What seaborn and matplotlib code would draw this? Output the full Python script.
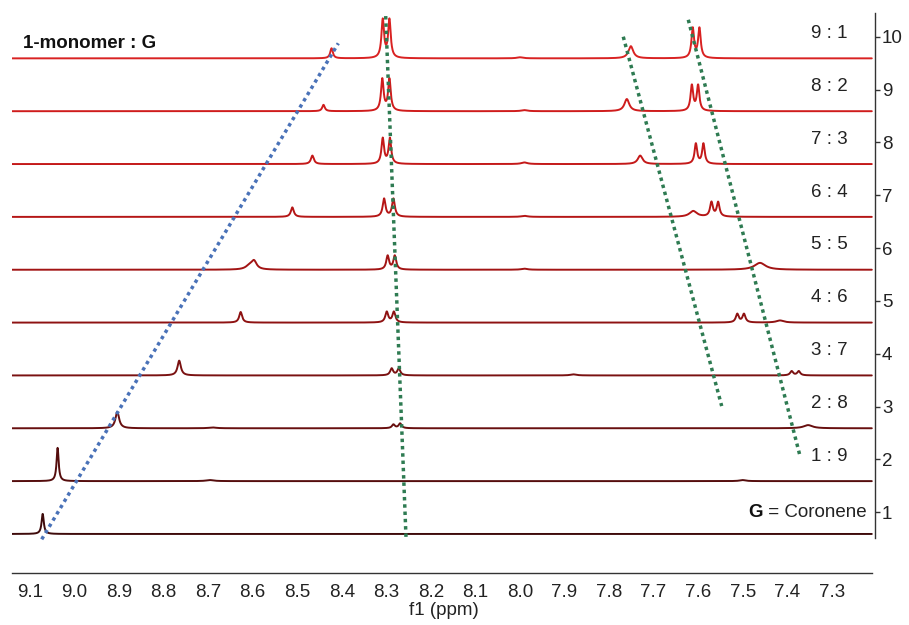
import numpy as np
import pandas as pd
import matplotlib
matplotlib.use("Agg")
import matplotlib.pyplot as plt
import seaborn as sns
from matplotlib.ticker import MultipleLocator

sns.set_style("white")
plt.rcParams["font.family"] = ["Liberation Sans", "DejaVu Sans"]

# ---------------- data ----------------
trace_names = ["S1", "S2", "S3", "S4", "S5", "S6", "S7", "S8", "S9", "S10"]
stack_levels = [1, 2, 3, 4, 5, 6, 7, 8, 9, 10]
ratio_labels = ["", "1 : 9", "2 : 8", "3 : 7", "4 : 6", "5 : 5",
                "6 : 4", "7 : 3", "8 : 2", "9 : 1"]
x_ticks = [9.1, 9.0, 8.9, 8.8, 8.7, 8.6, 8.5, 8.4, 8.3, 8.2, 8.1, 8.0,
           7.9, 7.8, 7.7, 7.6, 7.5, 7.4, 7.3]

# peaks: (shift / ppm, height, half width / ppm)
peaks_S1 = [(9.0715, 0.38, 0.003)]
peaks_S2 = [(9.038, 0.63, 0.0028), (8.696, 0.02, 0.01), (7.50, 0.02, 0.008)]
peaks_S3 = [(8.904, 0.31, 0.005), (8.284, 0.07, 0.004), (8.269, 0.09, 0.004),
            (8.69, 0.015, 0.01), (7.353, 0.06, 0.012)]
peaks_S4 = [(8.765, 0.28, 0.0045), (8.288, 0.13, 0.004), (8.272, 0.13, 0.004),
            (7.88, 0.02, 0.008), (7.390, 0.08, 0.004), (7.374, 0.08, 0.004)]
peaks_S5 = [(8.627, 0.20, 0.004), (8.299, 0.20, 0.004), (8.283, 0.20, 0.004),
            (7.512, 0.16, 0.004), (7.497, 0.16, 0.004), (7.416, 0.04, 0.01)]
peaks_S6 = [(8.597, 0.15, 0.007), (8.607, 0.07, 0.01), (8.297, 0.26, 0.0038),
            (8.281, 0.26, 0.0038), (7.99, 0.02, 0.008), (7.461, 0.13, 0.015)]
peaks_S7 = [(8.511, 0.18, 0.004), (8.305, 0.34, 0.0038), (8.284, 0.34, 0.0038),
            (7.99, 0.02, 0.008), (7.611, 0.11, 0.01), (7.570, 0.27, 0.0038),
            (7.555, 0.27, 0.0038)]
peaks_S8 = [(8.466, 0.16, 0.004), (8.308, 0.48, 0.0035), (8.292, 0.48, 0.0035),
            (7.99, 0.03, 0.008), (7.730, 0.16, 0.0065), (7.605, 0.38, 0.0035),
            (7.588, 0.38, 0.0035)]
peaks_S9 = [(8.441, 0.12, 0.0035), (8.309, 0.60, 0.0035), (8.293, 0.60, 0.0035),
            (7.99, 0.02, 0.008), (7.760, 0.23, 0.0065), (7.614, 0.48, 0.0035),
            (7.600, 0.48, 0.0035)]
peaks_S10 = [(8.423, 0.19, 0.0035), (8.308, 0.72, 0.0035), (8.293, 0.72, 0.0035),
             (8.00, 0.02, 0.008), (7.751, 0.23, 0.0065), (7.612, 0.56, 0.0035),
             (7.597, 0.56, 0.0035)]

# dotted guide lines (ppm, stack level at each end)
guide_blue_ppm = [9.0737, 8.4078]
guide_blue_level = [0.489, 9.875]
guide_green1_ppm = [8.3014, 8.2558]
guide_green1_level = [10.39, 0.527]
guide_green2_ppm = [7.768, 7.547]
guide_green2_level = [10.0, 3.01]
guide_green3_ppm = [7.622, 7.371]
guide_green3_level = [10.32, 2.06]

line_colors = ["#3f0b0b", "#550d0d", "#680f0f", "#7a1111", "#8e1212",
               "#a21414", "#b51616", "#c41919", "#cf1c1c", "#d92222"]

# ---------------- build traces ----------------
all_peaks = [peaks_S1, peaks_S2, peaks_S3, peaks_S4, peaks_S5,
             peaks_S6, peaks_S7, peaks_S8, peaks_S9, peaks_S10]
ppm = np.linspace(9.14, 7.21, 5000)
frames = []
for name, level, plist in zip(trace_names, stack_levels, all_peaks):
    sig = np.full_like(ppm, level - 0.41)
    for x0, h, w in plist:
        sig += h * w ** 2 / ((ppm - x0) ** 2 + w ** 2)
    frames.append(pd.DataFrame({"ppm": ppm, "signal": sig, "trace": name}))
df = pd.concat(frames, ignore_index=True)

# ---------------- figure ----------------
W, H = 909, 625
fig = plt.figure(figsize=(W / 100, H / 100), dpi=100)
ax = fig.add_axes([12 / W, 52.3 / H, (875 - 12) / W, (612.3 - 52.3) / H])

sns.lineplot(data=df, x="ppm", y="signal", hue="trace", hue_order=trace_names,
             palette=line_colors, estimator=None, sort=False, legend=False,
             linewidth=1.4, ax=ax)

dots = (0, (1, 1.1))
sns.lineplot(x=guide_blue_ppm, y=guide_blue_level, color="#4a72b8",
             linewidth=2.5, linestyle=dots, ax=ax, estimator=None, sort=False)
for gx, gy in [(guide_green1_ppm, guide_green1_level),
               (guide_green2_ppm, guide_green2_level),
               (guide_green3_ppm, guide_green3_level)]:
    sns.lineplot(x=gx, y=gy, color="#2e7b52", linewidth=2.5, linestyle=dots,
                 ax=ax, estimator=None, sort=False)

ax.set_xlim(9.1404, 7.2028)
ax.set_ylim(-0.143, 10.454)

for s in ["left", "top"]:
    ax.spines[s].set_visible(False)
ax.spines["bottom"].set_bounds(9.1404, 7.210)
ax.spines["right"].set_bounds(0.514, 10.454)
for s in ["bottom", "right"]:
    ax.spines[s].set_color("#333333")
    ax.spines[s].set_linewidth(1.0)

ax.set_xticks(x_ticks)
ax.set_xticklabels([f"{t:.1f}" for t in x_ticks])
ax.xaxis.set_minor_locator(MultipleLocator(0.05))
ax.tick_params(axis="x", which="major", direction="out", length=4, width=1,
               labelsize=13.5, pad=4, colors="#333333", labelcolor="#222222")
ax.tick_params(axis="x", which="minor", direction="out", length=2.5, width=1,
               colors="#333333")
ax.yaxis.tick_right()
ax.set_yticks(stack_levels)
ax.set_yticklabels([str(v) for v in stack_levels])
ax.tick_params(axis="y", which="major", direction="out", length=3.5, width=1,
               labelsize=13.5, pad=1.5, colors="#333333", labelcolor="#222222")
ax.set_ylabel("")
ax.set_xlabel("f1 (ppm)", fontsize=13.5, color="#222222", labelpad=1)

for lvl, lab in zip(stack_levels, ratio_labels):
    if lab:
        ax.text(7.306, lvl + 0.06, lab, ha="center", va="center",
                fontsize=13.5, color="#222222")

ax.text(9.115, 9.88, "1-monomer : G", ha="left", va="center",
        fontsize=13.5, fontweight="bold", color="#111111")
t = ax.text(7.2215, 1.0, " = Coronene", ha="right", va="center",
            fontsize=13.5, color="#222222")
ax.annotate("G", xy=(0, 0.5), xycoords=t, ha="right", va="center",
            fontsize=13.5, fontweight="bold", color="#111111")

fig.savefig("out.png", dpi=100)
